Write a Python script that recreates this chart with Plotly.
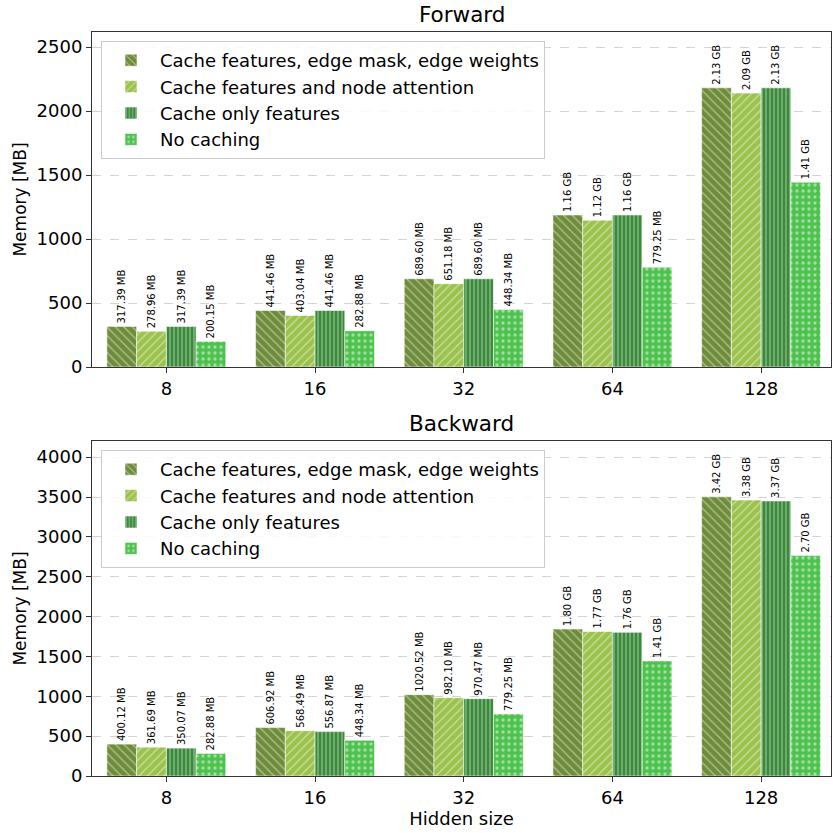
import plotly.graph_objects as go

# Hidden sizes on the x axis
hidden_sizes = ["8", "16", "32", "64", "128"]

series_names = [
    "Cache features, edge mask, edge weights",
    "Cache features and node attention",
    "Cache only features",
    "No caching",
]

# Peak memory in MB, one list per caching strategy
forward_edge_mask = [317.39, 441.46, 689.60, 1187.84, 2181.12]
forward_node_attn = [278.96, 403.04, 651.18, 1146.88, 2140.16]
forward_features = [317.39, 441.46, 689.60, 1187.84, 2181.12]
forward_no_cache = [200.15, 282.88, 448.34, 779.25, 1443.84]

backward_edge_mask = [400.12, 606.92, 1020.52, 1843.20, 3502.08]
backward_node_attn = [361.69, 568.49, 982.10, 1812.48, 3461.12]
backward_features = [350.07, 556.87, 970.47, 1802.24, 3450.88]
backward_no_cache = [282.88, 448.34, 779.25, 1443.84, 2764.80]

forward = [forward_edge_mask, forward_node_attn, forward_features, forward_no_cache]
backward = [backward_edge_mask, backward_node_attn, backward_features, backward_no_cache]

colors = ["#6e8c3a", "#9cc24e", "#3b8a3b", "#4ec24e"]
shapes = ["\\", "/", "|", "."]
sizes = [6, 6, 4, 6]
solids = [0.22, 0.22, 0.3, 0.25]

FONT = "DejaVu Sans"
L, R, T, B = 92, 2, 32, 57
W = H = 833
plot_h = H - T - B
top_dom = [(H - B - 367) / plot_h, 1.0]
bot_dom = [0.0, (H - B - 441) / plot_h]


def fmt(mb):
    if mb >= 1024:
        return f"{mb / 1024:.2f} GB"
    return f"{mb:.2f} MB"


fig = go.Figure()
x_idx = list(range(len(hidden_sizes)))

for panel, (data, xa, ya, leg) in enumerate(
    [(forward, "x", "y", "legend"), (backward, "x2", "y2", "legend2")]
):
    for i, vals in enumerate(data):
        fig.add_trace(
            go.Bar(
                x=x_idx,
                y=vals,
                name=series_names[i],
                offsetgroup=str(i),
                xaxis=xa,
                yaxis=ya,
                legend=leg,
                text=[fmt(v) + " " for v in vals],
                textposition="outside",
                textangle=-90,
                constraintext="none",
                cliponaxis=False,
                textfont=dict(family=FONT, size=10, color="black"),
                marker=dict(
                    color=colors[i],
                    line=dict(color="rgba(255,255,255,0.55)", width=1),
                    pattern=dict(
                        shape=shapes[i],
                        fillmode="overlay",
                        fgcolor="white",
                        fgopacity=0.45,
                        size=sizes[i],
                        solidity=solids[i],
                    ),
                ),
            )
        )

axis_common = dict(
    showline=True,
    mirror=True,
    linecolor="#333333",
    linewidth=1,
    ticks="outside",
    ticklen=5,
    tickcolor="#333333",
    tickfont=dict(family=FONT, size=18, color="black"),
)

xaxis_common = dict(
    axis_common,
    range=[-0.5, 4.47],
    tickvals=x_idx,
    ticktext=hidden_sizes,
    showgrid=False,
    zeroline=False,
)

yaxis_common = dict(
    axis_common,
    dtick=500,
    showgrid=True,
    gridcolor="#d4d4d4",
    griddash="dash",
    gridwidth=1,
    zeroline=False,
    title=dict(text="Memory [MB]", font=dict(family=FONT, size=17, color="black"), standoff=5),
)

top_max = max(max(s) for s in forward) * 1.2
bot_max = max(max(s) for s in backward) * 1.2

legend_common = dict(
    x=(101 - L) / (W - L - R),
    xanchor="left",
    yanchor="top",
    bgcolor="rgba(255,255,255,0.85)",
    bordercolor="#cccccc",
    borderwidth=1,
    font=dict(family=FONT, size=18, color="black"),
    tracegroupgap=0,
    itemwidth=48,
)

fig.update_layout(
    width=W,
    height=H,
    margin=dict(l=L, r=R, t=T, b=B),
    paper_bgcolor="white",
    plot_bgcolor="white",
    barmode="group",
    bargap=0.2,
    bargroupgap=0,
    font=dict(family=FONT, color="black"),
    xaxis=dict(xaxis_common, domain=[0, 1], anchor="y"),
    yaxis=dict(yaxis_common, domain=top_dom, range=[0, top_max], anchor="x"),
    xaxis2=dict(
        xaxis_common,
        domain=[0, 1],
        anchor="y2",
        title=dict(text="Hidden size", font=dict(family=FONT, size=18, color="black"), standoff=4),
    ),
    yaxis2=dict(yaxis_common, domain=bot_dom, range=[0, bot_max], anchor="x2"),
    legend=dict(legend_common, y=(H - B - 41) / plot_h),
    legend2=dict(legend_common, y=(H - B - 450) / plot_h),
    annotations=[
        dict(text="Forward", x=0.5, y=top_dom[1], xref="paper", yref="paper",
             xanchor="center", yanchor="bottom", yshift=3, showarrow=False,
             font=dict(family=FONT, size=21.5, color="black")),
        dict(text="Backward", x=0.5, y=bot_dom[1], xref="paper", yref="paper",
             xanchor="center", yanchor="bottom", yshift=3, showarrow=False,
             font=dict(family=FONT, size=21.5, color="black")),
    ],
)

fig.write_html("out.html")
